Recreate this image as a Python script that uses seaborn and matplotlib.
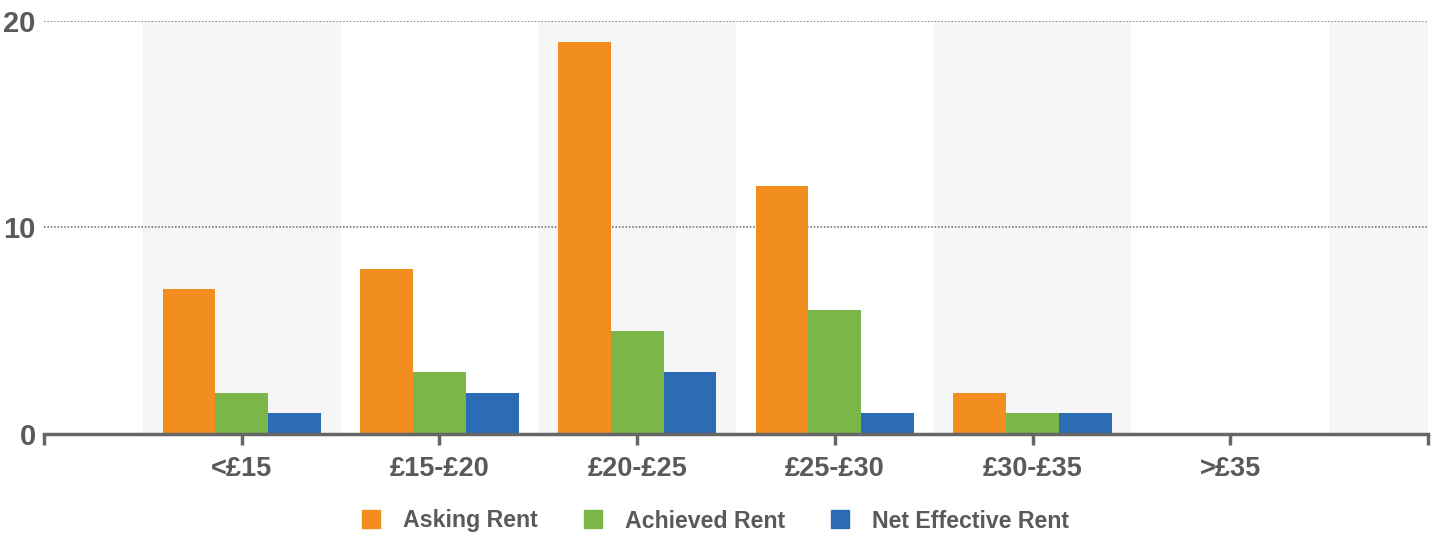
import matplotlib
matplotlib.use("Agg")
import matplotlib.pyplot as plt
from matplotlib.lines import Line2D
import seaborn as sns
import pandas as pd

categories = ["<£15", "£15-£20", "£20-£25", "£25-£30", "£30-£35", ">£35"]
asking_rent = [7, 8, 19, 12, 2, 0]
achieved_rent = [2, 3, 5, 6, 1, 0]
net_effective_rent = [1, 2, 3, 1, 1, 0]
series_names = ["Asking Rent", "Achieved Rent", "Net Effective Rent"]
colors = ["#F28E1E", "#7AB648", "#2B6CB4"]

rows = []
for name, vals in zip(series_names, [asking_rent, achieved_rent, net_effective_rent]):
    for c, v in zip(categories, vals):
        rows.append({"Band": c, "Series": name, "Value": v})
df = pd.DataFrame(rows)

sns.set_style("white")
plt.rcParams["font.family"] = ["Liberation Sans", "DejaVu Sans"]
text_color = "#5A5A5A"

fig = plt.figure(figsize=(14.38, 5.37), dpi=100)
ax = fig.add_axes([44 / 1438, 1 - 434 / 537, (1428 - 44) / 1438, (434 - 21) / 537])

# alternating background bands
for i in range(0, 7, 2):
    ax.axvspan(i - 0.5, min(i + 0.5, 6), ymin=0, ymax=1, color="#F6F6F6", zorder=0, lw=0)

sns.barplot(data=df, x="Band", y="Value", hue="Series", order=categories,
            hue_order=series_names, palette=colors, width=0.8, saturation=1,
            ax=ax, legend=False, zorder=2, linewidth=0, edgecolor="none")

ax.set_xlim(-1, 6)
ax.set_ylim(0, 20)
ax.set_xlabel("")
ax.set_ylabel("")
ax.set_yticks([0, 10, 20])
ax.set_yticklabels(["0", "10", "20"], fontsize=21, fontweight="bold", color=text_color)
ax.set_xticks(list(range(-1, 7)))
ax.set_xticklabels([""] + categories + [""], fontsize=19.5, fontweight="bold", color=text_color)

ax.yaxis.grid(True, linestyle=(0, (1, 1.2)), color="#666666", linewidth=1.1, zorder=1)
ax.set_axisbelow(True)
for s in ["top", "right", "left"]:
    ax.spines[s].set_visible(False)
ax.spines["bottom"].set_color("#666666")
ax.spines["bottom"].set_linewidth(2.5)
ax.spines["bottom"].set_zorder(5)
ax.tick_params(axis="x", bottom=True, direction="out", length=8, width=2.5, color="#666666", pad=8)
ax.tick_params(axis="y", left=False, length=0, pad=6)

handles = [Line2D([0], [0], marker="s", linestyle="", markersize=12.5,
                  markerfacecolor=c, markeredgecolor=c) for c in colors]
leg = fig.legend(handles, series_names, loc="center", bbox_to_anchor=(716 / 1438, 1 - 521 / 537),
                 ncol=3, frameon=False, prop={"size": 16.7, "weight": "bold"},
                 handlelength=0.75, handletextpad=1.0, columnspacing=2.0)
for t in leg.get_texts():
    t.set_color(text_color)

fig.savefig("out.png", dpi=100)
